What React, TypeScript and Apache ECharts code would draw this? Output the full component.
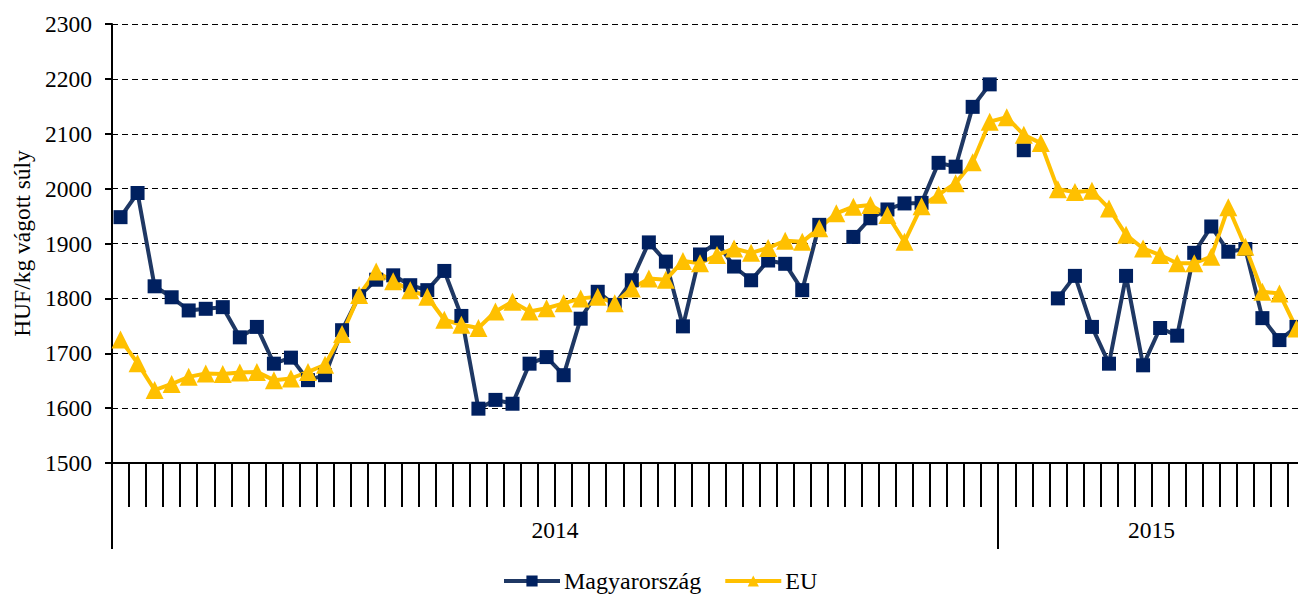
import React, { useEffect, useRef } from 'react';
import * as echarts from 'echarts';

const years = ['2014', '2015'];
const weeksPerYear = [52, 18];
const yMin = 1500;
const yMax = 2300;
const yStep = 100;
const yAxisName = 'HUF/kg vágott súly';
const seriesNames = ['Magyarország', 'EU'];

const hungary: (number | null)[] = [
  1948, 1992, 1822, 1802, 1778, 1781, 1784, 1729, 1748, 1681,
  1692, 1651, 1660, 1742, 1804, 1834, 1842, 1824, 1815, 1850,
  1768, 1599, 1615, 1608, 1681, 1693, 1660, 1763, 1812, 1788,
  1833, 1902, 1867, 1749, 1880, 1902, 1858, 1833, 1869, 1863,
  1815, 1934, null, 1912, 1946, 1962, 1973, 1974, 2047, 2040,
  2149, 2190, null, 2070, null, 1800, 1841, 1748, 1681, 1841,
  1678, 1746, 1732, 1883, 1931, 1885, 1890, 1764, 1724, 1748,
];

const eu: number[] = [
  1725, 1682, 1633, 1644, 1657, 1663, 1662, 1665, 1666, 1651,
  1654, 1666, 1679, 1735, 1806, 1849, 1831, 1815, 1803, 1761,
  1752, 1746, 1776, 1794, 1776, 1782, 1791, 1800, 1803, 1791,
  1818, 1836, 1834, 1868, 1864, 1879, 1891, 1883, 1892, 1905,
  1903, 1928, 1955, 1967, 1970, 1952, 1903, 1968, 1989, 2010,
  2048, 2122, 2130, 2098, 2083, 1999, 1994, 1996, 1964, 1916,
  1891, 1879, 1864, 1864, 1876, 1966, 1894, 1812, 1809, 1745,
];

// week categories
const categories: string[] = [];
years.forEach((y, i) => {
  for (let w = 1; w <= weeksPerYear[i]; w++) categories.push(`${y}. ${w}. hét`);
});

// boundaries (n+1) for the year axis
const yearStarts: number[] = [];
const boundaries: string[] = new Array(categories.length + 1).fill('');
{
  let s = 0;
  years.forEach((y, i) => {
    yearStarts.push(s);
    boundaries[s + weeksPerYear[i] / 2] = y;
    s += weeksPerYear[i];
  });
  yearStarts.push(s);
}

const FONT = "'Liberation Serif', serif";
const FS = 23.5;

export default function App() {
  const ref = useRef<HTMLDivElement>(null);
  useEffect(() => {
    if (!ref.current) return;
    const chart = echarts.init(ref.current, undefined, { renderer: 'svg' });
    chart.setOption({
      animation: false,
      backgroundColor: '#fff',
      textStyle: { fontFamily: FONT, color: '#000' },
      grid: { left: 112, top: 24, width: 1193, height: 439, containLabel: false },
      legend: {
        left: 502,
        top: 568,
        padding: 0,
        itemWidth: 56,
        itemHeight: 14,
        itemGap: 22,
        lineStyle: { width: 4 },
        textStyle: { fontFamily: FONT, fontSize: 24, lineHeight: 26, color: '#000', padding: [0, 0, 0, -1] },
        data: seriesNames,
      },
      xAxis: [
        {
          type: 'category',
          data: categories,
          boundaryGap: true,
          position: 'bottom',
          axisLine: { show: true, lineStyle: { color: '#000', width: 2 } },
          axisTick: { show: true, interval: 0, length: 44, lineStyle: { color: '#000', width: 2 } },
          axisLabel: { show: false },
          splitLine: { show: false },
        },
        {
          type: 'category',
          data: boundaries,
          boundaryGap: false,
          position: 'bottom',
          axisLine: { show: false },
          axisTick: {
            show: true,
            length: 86,
            interval: (index: number) => yearStarts.includes(index),
            lineStyle: { color: '#000', width: 2 },
          },
          axisLabel: {
            show: true,
            interval: (index: number, value: string) => value !== '',
            margin: 55,
            fontFamily: FONT,
            fontSize: FS,
            color: '#000',
          },
          splitLine: { show: false },
        },
      ],
      yAxis: {
        type: 'value',
        min: yMin,
        max: yMax,
        interval: yStep,
        name: yAxisName,
        nameLocation: 'middle',
        nameGap: 77,
        nameTextStyle: { fontFamily: FONT, fontSize: FS, color: '#000' },
        axisLine: { show: true, lineStyle: { color: '#000', width: 2 } },
        axisTick: { show: true, length: 7, lineStyle: { color: '#000', width: 2 } },
        axisLabel: {
          margin: 20,
          fontFamily: FONT,
          fontSize: FS,
          color: '#000',
          formatter: (v: number) => String(v),
        },
        splitLine: { show: true, lineStyle: { color: '#000', width: 1, type: [6, 4] } },
      },
      series: [
        {
          name: seriesNames[0],
          type: 'line',
          data: hungary,
          xAxisIndex: 0,
          connectNulls: false,
          showSymbol: true,
          showAllSymbol: true,
          symbol: 'rect',
          symbolSize: 14,
          lineStyle: { color: '#1F3864', width: 4 },
          itemStyle: { color: '#002060' },
        },
        {
          name: seriesNames[1],
          type: 'line',
          data: eu,
          xAxisIndex: 0,
          showSymbol: true,
          showAllSymbol: true,
          symbol: 'triangle',
          symbolSize: 18,
          lineStyle: { color: '#FFC000', width: 4 },
          itemStyle: { color: '#FFC000' },
        },
      ],
    });
    return () => chart.dispose();
  }, []);
  return (
    <div style={{ position: 'fixed', left: 0, top: 0, width: 1298, height: 595, overflow: 'hidden', background: '#fff' }}>
      <div ref={ref} style={{ width: 1320, height: 595 }} />
    </div>
  );
}
